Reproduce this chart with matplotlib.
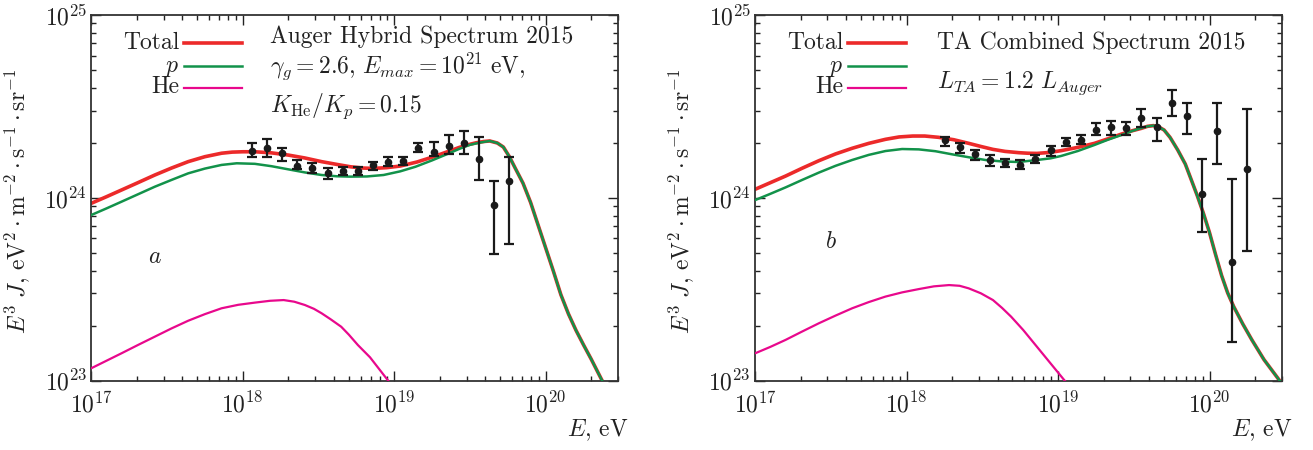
import numpy as np
import matplotlib
matplotlib.use('Agg')
import matplotlib.pyplot as plt
from matplotlib.ticker import LogLocator, NullFormatter

plt.rcParams['font.family'] = 'serif'
plt.rcParams['font.serif'] = ['cmr10']
plt.rcParams['mathtext.fontset'] = 'cm'
plt.rcParams['axes.formatter.use_mathtext'] = True
plt.rcParams['font.size'] = 17

# ---- panel a : Auger hybrid spectrum 2015 (log10 E, log10 E^3 J)
# high energy tail is common for Total and p
auger_tail_lgE = [19.68, 19.72, 19.76, 19.80, 19.85, 19.90, 19.95, 20.00, 20.05, 20.10,
                  20.15, 20.20, 20.25, 20.30, 20.37, 20.47]
auger_tail_lgY = [24.300, 24.278, 24.225, 24.160, 24.080, 23.975, 23.850, 23.725, 23.600, 23.470,
                  23.365, 23.275, 23.195, 23.118, 23.004, 22.850]
auger_tot_lgE = [17.00, 17.10, 17.20, 17.30, 17.42, 17.53, 17.64, 17.75, 17.86, 17.93,
                 18.00, 18.08, 18.19, 18.30, 18.41, 18.52, 18.62, 18.71, 18.79, 18.86,
                 18.95, 19.04, 19.15, 19.26, 19.35, 19.43, 19.49, 19.54, 19.59, 19.63]
auger_tot_lgY = [23.970, 24.006, 24.043, 24.080, 24.125, 24.163, 24.198, 24.225, 24.244, 24.250,
                 24.252, 24.252, 24.246, 24.234, 24.218, 24.198, 24.183, 24.170, 24.163, 24.161,
                 24.165, 24.174, 24.196, 24.225, 24.252, 24.276, 24.291, 24.301, 24.308, 24.311]
auger_p_lgE = [17.00, 17.10, 17.20, 17.31, 17.42, 17.53, 17.64, 17.75, 17.86, 17.96,
               18.08, 18.19, 18.30, 18.41, 18.52, 18.62, 18.71, 18.82, 18.93, 19.04,
               19.14, 19.25, 19.36, 19.43, 19.50, 19.57, 19.63]
auger_p_lgY = [23.906, 23.942, 23.979, 24.020, 24.061, 24.098, 24.134, 24.160, 24.180, 24.189,
               24.186, 24.173, 24.156, 24.139, 24.125, 24.118, 24.116, 24.117, 24.125, 24.145,
               24.170, 24.205, 24.243, 24.268, 24.290, 24.303, 24.311]
auger_he_lgE = [17.00, 17.10, 17.20, 17.31, 17.42, 17.53, 17.64, 17.75, 17.86, 17.97,
                18.08, 18.18, 18.27, 18.34, 18.41, 18.47, 18.52, 18.58, 18.65, 18.70,
                18.76, 18.84, 18.96, 19.10]
auger_he_lgY = [23.068, 23.109, 23.150, 23.196, 23.241, 23.286, 23.328, 23.364, 23.396, 23.415,
                23.427, 23.437, 23.441, 23.432, 23.414, 23.393, 23.369, 23.336, 23.295, 23.252,
                23.195, 23.128, 23.000, 22.850]

# Auger data points, flux in units of 1e24 eV^2 m^-2 s^-1 sr^-1
auger_lgE = [18.06, 18.16, 18.26, 18.36, 18.46, 18.56, 18.66, 18.76, 18.86,
             18.96, 19.06, 19.16, 19.26, 19.36, 19.46, 19.56, 19.66, 19.76]
auger_flux = [1.81, 1.87, 1.75, 1.50, 1.46, 1.36, 1.41, 1.40, 1.51,
              1.58, 1.59, 1.87, 1.77, 1.92, 2.00, 1.63, 0.914, 1.23]
auger_hi = [1.99, 2.09, 1.88, 1.61, 1.56, 1.45, 1.48, 1.48, 1.58,
            1.68, 1.68, 1.99, 2.02, 2.21, 2.33, 2.16, 1.24, 1.68]
auger_lo = [1.67, 1.68, 1.60, 1.43, 1.37, 1.27, 1.33, 1.33, 1.42,
            1.50, 1.51, 1.77, 1.69, 1.73, 1.73, 1.25, 0.49, 0.56]

# ---- panel b : TA combined spectrum 2015
ta_tail_lgE = [19.66, 19.70, 19.74, 19.79, 19.84, 19.88, 19.92, 19.96, 20.00, 20.04,
               20.08, 20.12, 20.16, 20.22, 20.28, 20.36, 20.46, 20.52]
ta_tail_lgY = [24.390, 24.371, 24.330, 24.262, 24.185, 24.098, 24.010, 23.915, 23.810, 23.690,
               23.575, 23.480, 23.405, 23.310, 23.223, 23.115, 23.004, 22.940]
ta_tot_lgE = [17.00, 17.10, 17.20, 17.31, 17.42, 17.53, 17.64, 17.75, 17.86, 17.95,
              18.04, 18.12, 18.21, 18.31, 18.41, 18.49, 18.57, 18.65, 18.74, 18.80,
              18.86, 18.94, 19.02, 19.13, 19.24, 19.33, 19.42, 19.49, 19.55, 19.59, 19.63]
ta_tot_lgY = [24.047, 24.083, 24.119, 24.162, 24.203, 24.240, 24.271, 24.298, 24.320, 24.333,
              24.338, 24.338, 24.331, 24.318, 24.298, 24.281, 24.265, 24.254, 24.247, 24.244,
              24.243, 24.248, 24.258, 24.276, 24.298, 24.323, 24.349, 24.367, 24.380, 24.391, 24.395]
ta_p_lgE = [17.00, 17.10, 17.20, 17.31, 17.42, 17.53, 17.64, 17.75, 17.86, 17.97,
            18.08, 18.19, 18.30, 18.41, 18.52, 18.63, 18.74, 18.86, 18.95, 19.02,
            19.13, 19.24, 19.33, 19.42, 19.49, 19.55, 19.59, 19.63]
ta_p_lgY = [23.988, 24.022, 24.057, 24.098, 24.138, 24.175, 24.207, 24.235, 24.256, 24.267,
            24.265, 24.255, 24.238, 24.222, 24.207, 24.199, 24.196, 24.207, 24.216, 24.229,
            24.256, 24.289, 24.318, 24.344, 24.366, 24.382, 24.391, 24.395]
ta_he_lgE = [17.00, 17.10, 17.20, 17.31, 17.42, 17.53, 17.64, 17.75, 17.86, 17.97,
             18.08, 18.18, 18.28, 18.35, 18.41, 18.49, 18.57, 18.63, 18.69, 18.77,
             18.86, 19.04, 19.15]
ta_he_lgY = [23.150, 23.185, 23.223, 23.269, 23.314, 23.356, 23.396, 23.430, 23.460, 23.483,
             23.501, 23.516, 23.523, 23.519, 23.505, 23.478, 23.441, 23.398, 23.350, 23.277,
             23.186, 23.004, 22.900]

ta_lgE = [18.25, 18.35, 18.45, 18.55, 18.65, 18.75, 18.85, 18.95, 19.05, 19.15, 19.25,
          19.35, 19.45, 19.55, 19.65, 19.75, 19.85, 19.95, 20.05, 20.15, 20.25]
ta_flux = [2.06, 1.89, 1.74, 1.61, 1.55, 1.51, 1.64, 1.83, 2.03, 2.07, 2.35,
           2.45, 2.42, 2.75, 2.45, 3.32, 2.81, 1.05, 2.33, 0.448, 1.43]
ta_hi = [2.16, 1.99, 1.83, 1.71, 1.63, 1.61, 1.71, 1.91, 2.12, 2.22, 2.56,
         2.64, 2.61, 3.05, 2.75, 3.89, 3.32, 1.63, 3.32, 1.26, 3.08]
ta_lo = [1.92, 1.75, 1.61, 1.49, 1.47, 1.43, 1.56, 1.69, 1.91, 1.96, 2.21,
         2.21, 2.21, 2.43, 2.05, 2.81, 2.23, 0.653, 1.53, 0.162, 0.514]

red = '#ec2a2a'
green = '#12924a'
magenta = '#e8088c'

fig = plt.figure(figsize=(13.13, 4.5), dpi=100)
ax_a = fig.add_axes([0.0695, 0.154, 0.4012, 0.8127])
ax_b = fig.add_axes([0.5752, 0.154, 0.4010, 0.8127])


def curve(ax, lgE, lgY, col, lw, z):
    ax.plot(10**np.array(lgE), 10**np.array(lgY), color=col, lw=lw, zorder=z,
            solid_joinstyle='round', solid_capstyle='round')


def draw_panel(ax, tot, p, tail, he, pts, lines, letter, letter_pos):
    # red first, green is drawn over it on the common tail
    curve(ax, tot[0] + tail[0], tot[1] + tail[1], red, 2.6, 2)
    curve(ax, p[0] + tail[0], p[1] + tail[1], green, 1.8, 3)
    curve(ax, he[0], he[1], magenta, 1.6, 3)

    lgE, flux, hi, lo = pts
    E = 10**np.array(lgE)
    f = np.array(flux) * 1e24
    err = [f - np.array(lo) * 1e24, np.array(hi) * 1e24 - f]
    ax.errorbar(E, f, yerr=err, fmt='o', color='#1a1a1a', ms=4.5, elinewidth=1.6,
                capsize=3.5, capthick=1.6, zorder=4)

    ax.set_xscale('log')
    ax.set_yscale('log')
    ax.set_xlim(1e17, 3e20)
    ax.set_ylim(1e23, 1e25)
    ax.xaxis.set_major_locator(LogLocator(base=10, numticks=10))
    ax.xaxis.set_minor_locator(LogLocator(base=10, subs=np.arange(2, 10), numticks=20))
    ax.yaxis.set_minor_locator(LogLocator(base=10, subs=np.arange(2, 10), numticks=20))
    ax.xaxis.set_minor_formatter(NullFormatter())
    ax.yaxis.set_minor_formatter(NullFormatter())
    ax.tick_params(which='both', direction='in', top=True, right=True, width=1.0,
                   colors='#222222', labelcolor='#222222')
    ax.tick_params(which='major', length=7)
    ax.tick_params(which='minor', length=3.5)
    ax.tick_params(axis='x', pad=8)
    ax.tick_params(axis='y', pad=3)
    for s in ax.spines.values():
        s.set_linewidth(1.3)
        s.set_color('#333333')

    ax.set_ylabel(r'$E^3\ J,\, \mathrm{eV}^2\cdot\mathrm{m}^{-2}\cdot\mathrm{s}^{-1}\cdot\mathrm{sr}^{-1}$',
                  color='#222222')
    ax.yaxis.set_label_coords(-0.112, 0.49)
    ax.text(1.02, -0.135, r'$E$, eV', transform=ax.transAxes, ha='right', va='center',
            color='#222222')

    # hand made legend: text on the left, line on the right
    for name, col, lw, y in [('Total', red, 2.6, 0.9226), (r'$p$', green, 1.8, 0.861),
                             ('He', magenta, 1.6, 0.801)]:
        ax.plot([0.176, 0.286], [y, y], transform=ax.transAxes, color=col, lw=lw)
        ax.text(0.168, y - 0.0156, name, transform=ax.transAxes, ha='right', va='baseline',
                color='#222222')

    for txt, x, y in lines:
        ax.text(x, y, txt, transform=ax.transAxes, ha='left', va='baseline', color='#222222')
    ax.text(letter_pos[0], letter_pos[1], letter, transform=ax.transAxes, ha='center',
            va='center', color='#222222')


draw_panel(ax_a, (auger_tot_lgE, auger_tot_lgY), (auger_p_lgE, auger_p_lgY),
           (auger_tail_lgE, auger_tail_lgY), (auger_he_lgE, auger_he_lgY),
           (auger_lgE, auger_flux, auger_hi, auger_lo),
           [('Auger Hybrid Spectrum 2015', 0.339, 0.924),
            (r'$\gamma_g = 2.6,\, E_{max} = 10^{21}\ \mathrm{eV},$', 0.339, 0.8406),
            (r'$K_{\mathrm{He}}/K_p = 0.15$', 0.339, 0.7356)],
           r'$a$', (0.121, 0.338))

draw_panel(ax_b, (ta_tot_lgE, ta_tot_lgY), (ta_p_lgE, ta_p_lgY),
           (ta_tail_lgE, ta_tail_lgY), (ta_he_lgE, ta_he_lgY),
           (ta_lgE, ta_flux, ta_hi, ta_lo),
           [('TA Combined Spectrum 2015', 0.3446, 0.906),
            (r'$L_{TA} = 1.2\ L_{Auger}$', 0.3446, 0.80)],
           r'$b$', (0.144, 0.380))

fig.savefig('out.png', dpi=100)
